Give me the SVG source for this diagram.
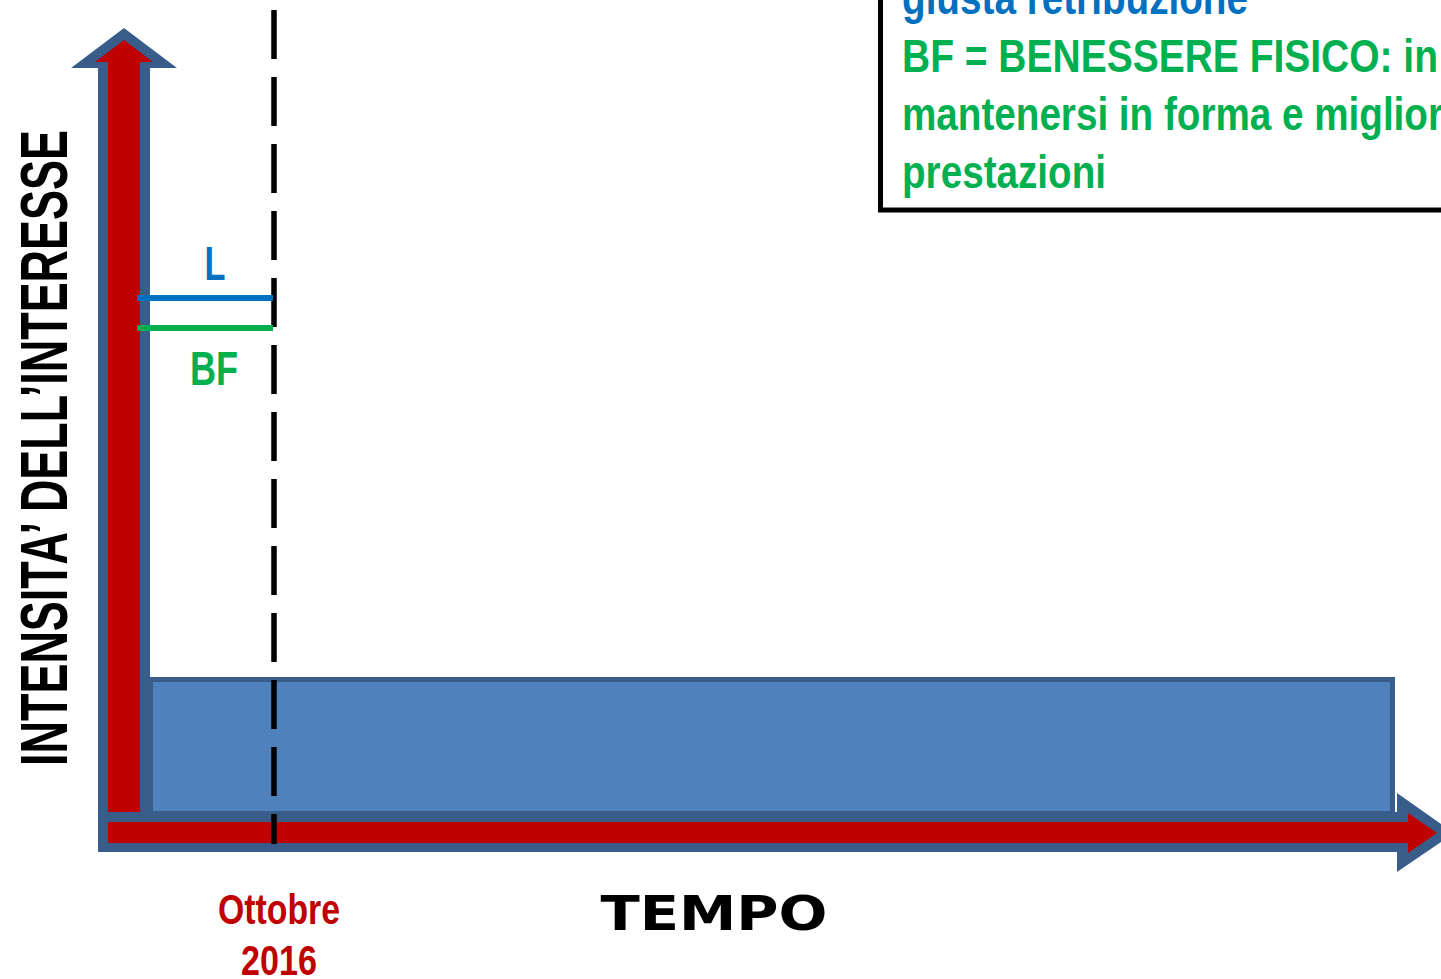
<svg xmlns="http://www.w3.org/2000/svg" width="1441" height="979" viewBox="0 0 1441 979">
<style>
.narrow{font-family:"Liberation Sans Narrow","Liberation Sans",Arial,sans-serif;font-weight:bold}
.blue{fill:#0070C0}
.green{fill:#00B050}
.red{fill:#C00000}
.outline{fill:#385D8A}
.arrowfill{fill:#C00000}
</style>
<rect width="1441" height="979" fill="#ffffff"/>
<g id="legend-box">
<rect x="880.5" y="-20" width="620" height="230" fill="#ffffff" stroke="#000000" stroke-width="5"/>
<text class="narrow blue" x="902" y="14" font-size="47" textLength="346" lengthAdjust="spacingAndGlyphs">giusta retribuzione</text>
<text class="narrow green" x="902" y="72" font-size="47" textLength="536" lengthAdjust="spacingAndGlyphs">BF = BENESSERE FISICO: in</text>
<text class="narrow green" x="902" y="130" font-size="47" textLength="541" lengthAdjust="spacingAndGlyphs">mantenersi in forma e miglior</text>
<text class="narrow green" x="902" y="188" font-size="47" textLength="204" lengthAdjust="spacingAndGlyphs">prestazioni</text>
</g>
<g id="area">
<rect x="150.5" y="679.5" width="1242" height="134" fill="#4F81BD" stroke="#385D8A" stroke-width="5"/>
</g>
<g id="connectors">
<g id="y-axis">
<polygon class="outline" points="98,822 98,68 71,68 124,28 177,68 150,68 150,822"/>
<polygon class="arrowfill" points="108,813 108,62 95,62 124,40 153,62 140,62 140,813"/>
</g>
<g id="x-axis">
<polygon class="outline" points="98,812 1397,812 1397,793 1454,833 1397,872 1397,852 98,852"/>
<polygon class="arrowfill" points="108,822 1408,822 1408,813 1437,833 1408,853 1408,843 108,843"/>
</g>
<line id="oct-2016-line" x1="274" y1="10" x2="274" y2="844" stroke="#000000" stroke-width="5.5" stroke-dasharray="49 18"/>
</g>
<g id="L">
<line x1="137" y1="298" x2="273" y2="298" stroke="#0070C0" stroke-width="6"/>
<text x="215" y="280" font-family="Liberation Sans, Arial, sans-serif" font-weight="bold" font-size="48" text-anchor="middle" class="blue" textLength="21" lengthAdjust="spacingAndGlyphs">L</text>
</g>
<g id="BF">
<line x1="137" y1="328" x2="273" y2="328" stroke="#00B050" stroke-width="6"/>
<text x="214" y="385" font-family="Liberation Sans, Arial, sans-serif" font-weight="bold" font-size="48" text-anchor="middle" class="green" textLength="48" lengthAdjust="spacingAndGlyphs">BF</text>
</g>
<g id="y-label">
<text transform="translate(67,448) rotate(-90)" x="0" y="0" text-anchor="middle" font-family="Liberation Sans Narrow, Liberation Sans, Arial, sans-serif" font-weight="bold" font-size="66" fill="#000000" textLength="636" lengthAdjust="spacingAndGlyphs">INTENSITA’ DELL’INTERESSE</text>
</g>
<g id="x-label">
<text x="714" y="930" text-anchor="middle" font-family="DejaVu Sans, Verdana, sans-serif" font-weight="bold" font-size="48" fill="#000000" textLength="227" lengthAdjust="spacingAndGlyphs">TEMPO</text>
</g>
<g id="date-label">
<text class="narrow red" x="279" y="924" font-size="43" text-anchor="middle" textLength="122" lengthAdjust="spacingAndGlyphs">Ottobre</text>
<text class="narrow red" x="279" y="975" font-size="43" text-anchor="middle" textLength="76" lengthAdjust="spacingAndGlyphs">2016</text>
</g>
</svg>
